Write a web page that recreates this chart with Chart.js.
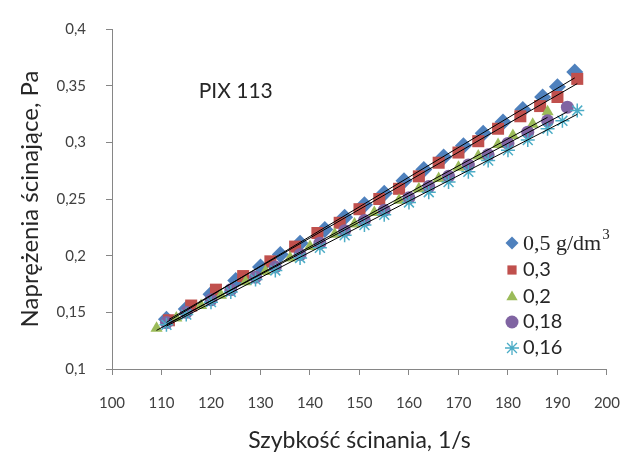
<!DOCTYPE html>
<html>
<head>
<meta charset="utf-8">
<script src="https://cdn.jsdelivr.net/npm/chart.js@4.4.1/dist/chart.umd.min.js"></script>
<style>
  html, body { margin: 0; padding: 0; background: #ffffff; }
  #wrap { width: 639px; height: 457px; }
</style>
</head>
<body>
<div id="wrap"><canvas id="chart" width="639" height="457"></canvas></div>
<script>
// Shear stress vs shear rate, PIX 113, five concentrations
const seriesNames = ['0,5 g/dm3', '0,3', '0,2', '0,18', '0,16'];

const rate05 = [111, 115, 120, 125, 130, 134, 138, 143, 147, 151, 155, 159, 163, 167, 171, 175, 179, 183, 187, 190, 193.5];
const stress05 = [0.144, 0.153, 0.166, 0.178, 0.190, 0.201, 0.211, 0.223, 0.234, 0.245, 0.255, 0.266, 0.276, 0.287, 0.297, 0.308, 0.318, 0.329, 0.340, 0.349, 0.362];

const rate03 = [111.5, 116, 121, 126.5, 132, 137, 141.5, 146, 150, 154, 158, 162, 166, 170, 174, 178, 182.5, 186.5, 190, 194];
const stress03 = [0.143, 0.156, 0.170, 0.182, 0.195, 0.208, 0.220, 0.229, 0.241, 0.250, 0.259, 0.270, 0.282, 0.291, 0.301, 0.312, 0.323, 0.332, 0.340, 0.356];

const rate02 = [109, 113, 118, 122, 127, 131, 136, 140, 145, 149, 153, 158, 162, 166, 170, 174, 178, 181, 185, 188];
const stress02 = [0.136, 0.145, 0.156, 0.165, 0.177, 0.186, 0.198, 0.208, 0.219, 0.228, 0.238, 0.249, 0.259, 0.268, 0.278, 0.288, 0.298, 0.306, 0.316, 0.327];

const rate018 = [111, 115, 120, 124, 129, 133, 138, 142, 147, 151, 155, 160, 164, 168, 172, 176, 180, 184, 188, 192];
const stress018 = [0.141, 0.150, 0.161, 0.170, 0.181, 0.190, 0.201, 0.211, 0.222, 0.231, 0.240, 0.251, 0.261, 0.270, 0.280, 0.289, 0.299, 0.309, 0.319, 0.331];

const rate016 = [111, 115, 120, 124, 129, 133, 138, 142, 147, 151, 155, 160, 164, 168, 172, 176, 180, 184, 188, 191, 194];
const stress016 = [0.139, 0.148, 0.159, 0.168, 0.179, 0.187, 0.198, 0.207, 0.218, 0.227, 0.236, 0.247, 0.256, 0.265, 0.274, 0.284, 0.293, 0.302, 0.312, 0.319, 0.328];

const xTickLabels = ['100', '110', '120', '130', '140', '150', '160', '170', '180', '190', '200'];
const yTickLabels = ['0,1', '0,15', '0,2', '0,25', '0,3', '0,35', '0,4'];

const seriesColors = ['#4F81BD', '#C0504D', '#9BBB59', '#8064A2', '#4BACC6'];
const seriesMarkers = ['rectRot', 'rect', 'triangle', 'circle', 'star'];
const seriesRadius = [8.5, 8.5, 7, 6.5, 7];

const allRates = [rate05, rate03, rate02, rate018, rate016];
const allStress = [stress05, stress03, stress02, stress018, stress016];

// zip x / y arrays into {x, y} points
function toPoints(xs, ys) {
  return xs.map((x, i) => ({ x: x, y: ys[i] }));
}

// least squares line through a series, drawn over the series' own x range
function trendPoints(xs, ys) {
  const n = xs.length;
  let sx = 0, sy = 0, sxx = 0, sxy = 0;
  for (let i = 0; i < n; i++) {
    sx += xs[i]; sy += ys[i]; sxx += xs[i] * xs[i]; sxy += xs[i] * ys[i];
  }
  const b = (n * sxy - sx * sy) / (n * sxx - sx * sx);
  const a = (sy - b * sx) / n;
  const x0 = Math.min(...xs), x1 = Math.max(...xs);
  return [{ x: x0, y: a + b * x0 }, { x: x1, y: a + b * x1 }];
}

const datasets = [];
// markers: later series on top (lower order = drawn later)
for (let i = 0; i < 5; i++) {
  const isStar = seriesMarkers[i] === 'star';
  datasets.push({
    type: 'scatter',
    label: seriesNames[i],
    data: toPoints(allRates[i], allStress[i]),
    pointStyle: seriesMarkers[i],
    pointRadius: seriesRadius[i],
    pointBackgroundColor: seriesColors[i],
    pointBorderColor: seriesColors[i],
    pointBorderWidth: isStar ? 1.5 : 0,
    showLine: false,
    order: 10 - i
  });
}
// black linear trendlines on top
for (let i = 0; i < 5; i++) {
  datasets.push({
    type: 'line',
    label: 'trend ' + seriesNames[i],
    data: trendPoints(allRates[i], allStress[i]),
    borderColor: '#000000',
    borderWidth: 1,
    pointRadius: 0,
    fill: false,
    order: 0
  });
}

// legend inside the plot + "PIX 113" label
const chartExtras = {
  id: 'chartExtras',
  afterDraw(chart) {
    const ctx = chart.ctx;
    const xs = chart.scales.x, ys = chart.scales.y;
    ctx.save();
    ctx.fillStyle = '#262626';
    ctx.font = '21px Lato';
    ctx.textAlign = 'center';
    ctx.textBaseline = 'middle';
    ctx.fillText('PIX 113', xs.getPixelForValue(125), ys.getPixelForValue(0.345));

    const rowY = [243, 270, 297, 322, 348];
    const markX = 512, textX = 523;
    for (let i = 0; i < 5; i++) {
      const star = seriesMarkers[i] === 'star';
      ctx.fillStyle = seriesColors[i];
      ctx.strokeStyle = seriesColors[i];
      ctx.lineWidth = 1.3;
      Chart.helpers.drawPoint(ctx, {
        pointStyle: seriesMarkers[i],
        radius: star ? 7 : 6.5,
        borderWidth: star ? 1.3 : 0,
        rotation: 0
      }, markX, rowY[i]);
      ctx.fillStyle = '#262626';
      ctx.textAlign = 'left';
      ctx.textBaseline = 'middle';
      if (i === 0) {
        const base = seriesNames[0].slice(0, -1);
        ctx.font = '22px "Liberation Serif"';
        ctx.fillText(base, textX, rowY[i] + 1);
        const w = ctx.measureText(base).width;
        ctx.font = '15px "Liberation Serif"';
        ctx.fillText(seriesNames[0].slice(-1), textX + w + 1, rowY[i] - 8);
      } else {
        ctx.font = '20px Lato';
        ctx.fillText(seriesNames[i], textX, rowY[i]);
      }
    }
    ctx.restore();
  }
};

function initChart() {
  const ctx = document.getElementById('chart').getContext('2d');
  new Chart(ctx, {
    type: 'scatter',
    data: { datasets },
    plugins: [chartExtras],
    options: {
      responsive: false,
      animation: false,
      devicePixelRatio: 1,
      layout: { padding: { top: 21, right: 26, left: 0, bottom: 0 } },
      plugins: {
        legend: { display: false },
        tooltip: { enabled: false }
      },
      scales: {
        x: {
          type: 'linear',
          min: 100,
          max: 200,
          afterFit: s => { s.height = 88; },
          ticks: {
            stepSize: 10,
            padding: 19,
            color: '#404040',
            font: { family: 'Lato', size: 15 },
            callback: (v, i) => xTickLabels[i]
          },
          grid: { drawOnChartArea: false, tickLength: 6, tickColor: '#868686' },
          border: { color: '#868686', width: 1 },
          title: {
            display: true,
            text: 'Szybkość ścinania, 1/s',
            color: '#262626',
            font: { family: 'Lato', size: 23 },
            padding: { top: 0, bottom: 3 }
          }
        },
        y: {
          type: 'linear',
          min: 0.1,
          max: 0.4,
          afterFit: s => { s.width = 112; },
          ticks: {
            stepSize: 0.05,
            padding: 20,
            color: '#404040',
            font: { family: 'Lato', size: 15 },
            callback: (v, i) => yTickLabels[i]
          },
          grid: { drawOnChartArea: false, tickLength: 6, tickColor: '#868686' },
          border: { color: '#868686', width: 1 },
          title: {
            display: true,
            text: 'Naprężenia ścinające, Pa',
            color: '#262626',
            font: { family: 'Lato', size: 24 },
            padding: { top: 16, bottom: 0 }
          }
        }
      }
    }
  });
}

window.addEventListener('load', initChart);
</script>
</body>
</html>
